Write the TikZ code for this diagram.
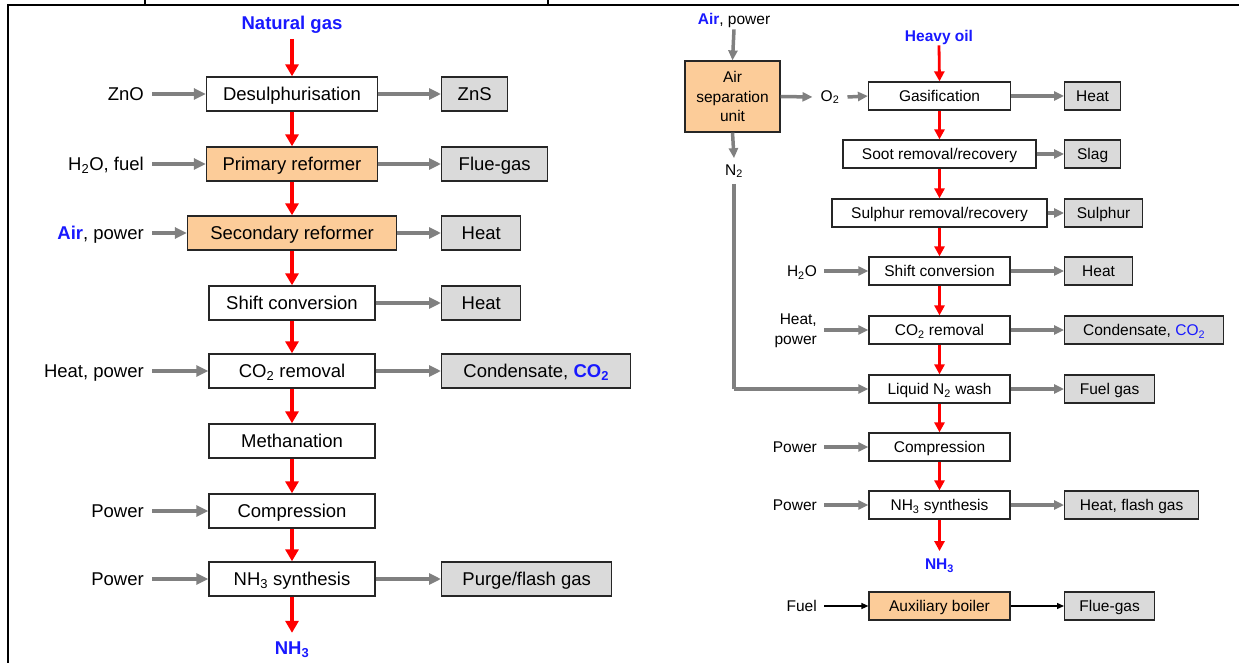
\documentclass[tikz,border=0pt]{standalone}
\usepackage{fontspec}
\setmainfont{Liberation Sans}
\usetikzlibrary{arrows.meta}
\definecolor{flowred}{RGB}{255,0,0}
\definecolor{feedgray}{RGB}{128,128,128}
\definecolor{outfill}{RGB}{218,218,218}
\definecolor{unitorange}{RGB}{252,204,153}
\definecolor{streamblue}{RGB}{25,25,255}
\newcommand{\sbs}[1]{\textsubscript{#1}}

\begin{document}
\begin{tikzpicture}[x=1pt,y=-1pt,
  lfont/.style={font=\fontsize{18.5}{20}\selectfont},
  rfont/.style={font=\fontsize{15.5}{19.5}\selectfont},
  lmid/.style={text height=13.3pt,text depth=0pt},
  rmid/.style={text height=11.1pt,text depth=0pt},
  lbox/.style={draw=black!85,line width=1.4pt,fill=white,inner sep=0pt,minimum height=34pt,lfont,lmid},
  lout/.style={lbox,fill=outfill,anchor=west},
  lhot/.style={lbox,fill=unitorange},
  rbox/.style={draw=black!85,line width=1.2pt,fill=white,inner sep=0pt,minimum height=28pt,rfont,rmid},
  rout/.style={rbox,fill=outfill,anchor=west},
  rhot/.style={rbox,fill=unitorange},
  llabel/.style={lfont,lmid,anchor=east,inner xsep=8pt,inner ysep=2pt},
  rlabel/.style={rfont,rmid,anchor=east,inner xsep=7pt,inner ysep=2pt},
  lred/.style={draw=flowred,line width=3.5pt,-{Triangle[length=12pt,width=13pt]}},
  lgray/.style={draw=feedgray,line width=4.5pt,-{Triangle[length=12pt,width=11pt]}},
  rred/.style={draw=flowred,line width=2.8pt,-{Triangle[length=10pt,width=10pt]}},
  rgray/.style={draw=feedgray,line width=3.5pt,-{Triangle[length=10pt,width=9pt]}},
  rblack/.style={draw=black,line width=1.3pt,-{Triangle[length=7pt,width=6pt]}},
  rline/.style={draw=feedgray,line width=3.5pt}
]
\useasboundingbox (0,0) rectangle (1239,663);
\fill[white] (0,0) rectangle (1239,663);

% frame of the surrounding table
\draw[line width=2.5pt] (7,5) -- (1239,5);
\draw[line width=2.5pt] (8,5) -- (8,663);
\draw[line width=1.5pt] (145,0) -- (145,5);
\draw[line width=1.5pt] (548,0) -- (548,5);

% ---------- steam reforming of natural gas ----------
\node[lfont,text=streamblue,inner sep=5pt] (ng) at (292,25) {\bfseries Natural gas};

\node[lbox,minimum width=171pt] (desul) at (292,94) {Desulphurisation};
\node[lhot,minimum width=171pt] (prim) at (292,164) {Primary reformer};
\node[lhot,minimum width=209pt] (sec) at (292,233) {Secondary reformer};
\node[lbox,minimum width=166pt] (shift) at (292,303) {Shift conversion};
\node[lbox,minimum width=166pt] (co2) at (292,371) {CO\sbs{2} removal};
\node[lbox,minimum width=166pt] (meth) at (292,441) {Methanation};
\node[lbox,minimum width=166pt] (comp) at (292,511) {Compression};
\node[lbox,minimum width=166pt] (synth) at (292,579) {NH\sbs{3} synthesis};

\node[lfont,text=streamblue,inner sep=9pt] (nh3a) at (292,650) {\bfseries NH\sbs{3}};

\node[lout,minimum width=66pt] (zns) at (441,94) {ZnS};
\node[lout,minimum width=106pt] (flue) at (441,164) {Flue-gas};
\node[lout,minimum width=79pt] (heata) at (441,233) {Heat};
\node[lout,minimum width=79pt] (heatb) at (441,303) {Heat};
\node[lout,minimum width=189pt] (conda) at (441,371) {Condensate, \textcolor{streamblue}{\bfseries CO\sbs{2}}};
\node[lout,minimum width=170pt] (purge) at (441,579) {Purge/flash gas};

\node[llabel] (zno) at (152,94) {ZnO};
\node[llabel] (h2of) at (152,164) {H\sbs{2}O, fuel};
\node[llabel] (airl) at (152,233) {\textcolor{streamblue}{\bfseries Air}, power};
\node[llabel] (hpl) at (152,371) {Heat, power};
\node[llabel] (pwa) at (152,511) {Power};
\node[llabel] (pwb) at (152,579) {Power};

\draw[lred] (ng.south) -- (desul.north);
\draw[lred] (desul) -- (prim);
\draw[lred] (prim) -- (sec);
\draw[lred] (sec) -- (shift);
\draw[lred] (shift) -- (co2);
\draw[lred] (co2) -- (meth);
\draw[lred] (meth) -- (comp);
\draw[lred] (comp) -- (synth);
\draw[lred] (synth.south) -- (nh3a.north);

\draw[lgray] (zno.east) -- (desul.west);
\draw[lgray] (h2of.east) -- (prim.west);
\draw[lgray] (airl.east) -- (sec.west);
\draw[lgray] (hpl.east) -- (co2.west);
\draw[lgray] (pwa.east) -- (comp.west);
\draw[lgray] (pwb.east) -- (synth.west);

\draw[lgray] (desul.east) -- (zns.west);
\draw[lgray] (prim.east) -- (flue.west);
\draw[lgray] (sec.east) -- (heata.west);
\draw[lgray] (shift.east) -- (heatb.west);
\draw[lgray] (co2.east) -- (conda.west);
\draw[lgray] (synth.east) -- (purge.west);

% ---------- partial oxidation of heavy oil ----------
\node[rfont,inner sep=2pt] (airpw) at (734,20) {\textcolor{streamblue}{\bfseries Air}, power};
\node[rbox,fill=unitorange,minimum width=95pt,minimum height=71pt,align=center,text height=,text depth=] (asu) at (732.5,96.5) {Air\\separation\\unit};
\node[rfont,inner xsep=8pt,inner ysep=2pt] (o2) at (830,97) {O\sbs{2}};
\node[rfont,inner sep=6pt] (n2) at (734,171) {N\sbs{2}};

\node[rfont,text=streamblue,inner sep=1pt] (oil) at (939,37) {\bfseries Heavy oil};

\node[rbox,minimum width=142pt] (gasif) at (939.5,96) {Gasification};
\node[rbox,minimum width=193pt] (soot) at (939.5,154) {Soot removal/recovery};
\node[rbox,minimum width=215pt] (sulph) at (939.5,213) {Sulphur removal/recovery};
\node[rbox,minimum width=141pt] (rshift) at (939.5,271) {Shift conversion};
\node[rbox,minimum width=141pt] (rco2) at (939.5,330) {CO\sbs{2} removal};
\node[rbox,minimum width=141pt] (wash) at (939.5,389) {Liquid N\sbs{2} wash};
\node[rbox,minimum width=141pt] (rcomp) at (939.5,447) {Compression};
\node[rbox,minimum width=141pt] (rsynth) at (939.5,505) {NH\sbs{3} synthesis};
\node[rfont,text=streamblue,inner sep=8pt] (nh3b) at (939.5,566) {\bfseries NH\sbs{3}};
\node[rhot,minimum width=141pt] (boiler) at (939.5,606) {Auxiliary boiler};

\node[rout,minimum width=56pt] (rheata) at (1064,96) {Heat};
\node[rout,minimum width=56pt] (slag) at (1064,154) {Slag};
\node[rout,minimum width=78pt] (sulout) at (1064,213) {Sulphur};
\node[rout,minimum width=68pt] (rheatb) at (1064,271) {Heat};
\node[rout,minimum width=159pt] (condb) at (1064,330) {Condensate, \textcolor{streamblue}{CO\sbs{2}}};
\node[rout,minimum width=90pt] (fuelgas) at (1064,389) {Fuel gas};
\node[rout,minimum width=134pt] (flash) at (1064,505) {Heat, flash gas};
\node[rout,minimum width=90pt] (flueb) at (1064,606) {Flue-gas};

\node[rlabel] (h2o) at (824,271) {H\sbs{2}O};
\node[rfont,anchor=east,inner xsep=7pt,inner ysep=2pt,align=right] (hpr) at (824,331) {Heat,\\power};
\node[rlabel] (pwc) at (824,447) {Power};
\node[rlabel] (pwd) at (824,505) {Power};
\node[rlabel] (fuel) at (824,606) {Fuel};

\draw[rgray] (airpw.south) -- (asu.north);
\draw[rgray] (asu.east) -- (o2.west);
\draw[rgray] (o2.east) -- (gasif.west);
\draw[rgray] (asu.south) -- (n2.north);
\draw[rline] (n2.south) -- (n2.south |- wash.west);
\draw[rgray] (n2.south |- wash.west) -- (wash.west);

\draw[rred] (oil.south) -- (gasif.north);
\draw[rred] (gasif) -- (soot);
\draw[rred] (soot) -- (sulph);
\draw[rred] (sulph) -- (rshift);
\draw[rred] (rshift) -- (rco2);
\draw[rred] (rco2) -- (wash);
\draw[rred] (wash) -- (rcomp);
\draw[rred] (rcomp) -- (rsynth);
\draw[rred] (rsynth.south) -- (nh3b.north);

\draw[rgray] (gasif.east) -- (rheata.west);
\draw[rgray] (soot.east) -- (slag.west);
\draw[rgray] (sulph.east) -- (sulout.west);
\draw[rgray] (rshift.east) -- (rheatb.west);
\draw[rgray] (rco2.east) -- (condb.west);
\draw[rgray] (wash.east) -- (fuelgas.west);
\draw[rgray] (rsynth.east) -- (flash.west);

\draw[rgray] (h2o.east) -- (rshift.west);
\draw[rgray] (hpr.east |- rco2.west) -- (rco2.west);
\draw[rgray] (pwc.east) -- (rcomp.west);
\draw[rgray] (pwd.east) -- (rsynth.west);

\draw[rblack] (fuel.east) -- (boiler.west);
\draw[rblack] (boiler.east) -- (flueb.west);
\end{tikzpicture}
\end{document}
